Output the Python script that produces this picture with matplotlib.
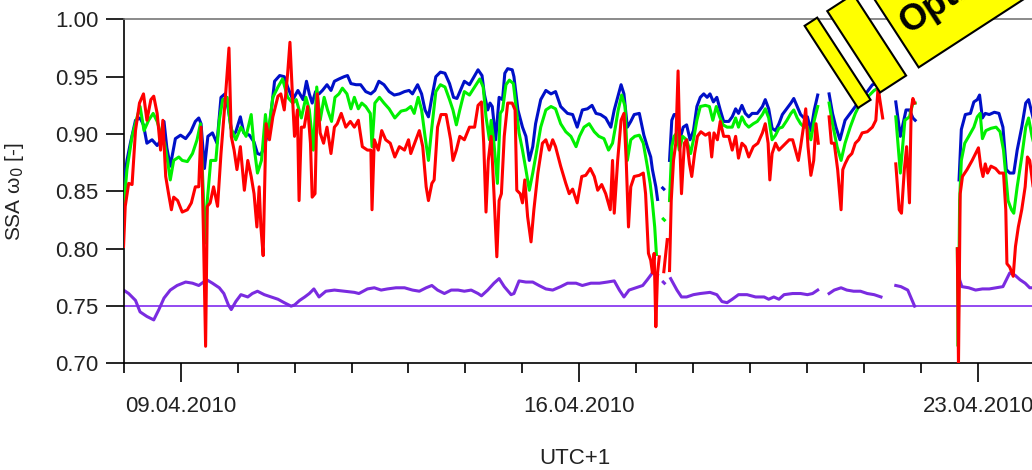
import datetime as dt
import numpy as np
import matplotlib
matplotlib.use('Agg')
import matplotlib.pyplot as plt
import matplotlib.dates as mdates
from matplotlib.patches import Polygon
from matplotlib.transforms import Affine2D

plt.rcParams.update({
    'font.family': ['Liberation Sans', 'DejaVu Sans'],
    'font.size': 16,
})

nan = np.nan
start = dt.datetime(2010, 4, 8)

# time = days after 08.04.2010 00:00 (UTC+1), values = SSA
blue_t = [0.00, 0.06, 0.12, 0.21, 0.29, 0.35, 0.41, 0.50, 0.59, 0.66, 0.71, 0.76, 0.82, 0.91, 1.00, 1.09,
          1.18, 1.26, 1.32, 1.36, 1.42, 1.48, 1.56, 1.64, 1.71, 1.78, 1.84, 1.91, 1.97, 2.05, 2.11, 2.21,
          2.29, 2.35, 2.41, 2.47, 2.56, 2.65, 2.74, 2.82, 2.88, 2.97, 3.06, 3.15, 3.21, 3.26, 3.31, 3.37,
          3.43, 3.49, 3.57, 3.64, 3.70, 3.78, 3.87, 3.93, 3.99, 4.08, 4.16, 4.25, 4.34, 4.41, 4.48, 4.57,
          4.66, 4.75, 4.84, 4.93, 5.01, 5.07, 5.16, 5.23, 5.29, 5.35, 5.41, 5.48, 5.56, 5.64, 5.72, 5.79,
          5.85, 5.91, 5.98, 6.07, 6.15, 6.22, 6.29, 6.33, 6.39, 6.43, 6.47, 6.53, 6.59, 6.65, 6.69, 6.74,
          6.82, 6.85, 6.92, 7.00, 7.06, 7.12, 7.18, 7.23, 7.32, 7.41, 7.50, 7.58, 7.67, 7.79, 7.88, 7.96,
          8.05, 8.14, 8.22, 8.29, 8.37, 8.46, 8.55, 8.61, 8.67, 8.73, 8.78, 8.84, 8.90, 8.96, 9.05, 9.13,
          9.19, 9.25, 9.28, 9.34, 9.37, 9.40, 9.46, 9.48, 9.50, 9.58, 9.62, 9.66, 9.71, 9.76, 9.82, 9.88,
          9.94, 10.00, 10.06, 10.12, 10.18, 10.24, 10.29, 10.35, 10.41, 10.47, 10.53, 10.62, 10.68, 10.74,
          10.79, 10.85, 10.91, 10.97, 11.03, 11.12, 11.21, 11.26, 11.32, 11.38, 11.44, 11.50, 11.56, 11.62,
          11.71, 11.76, 11.82, 11.88, 11.94, 12.00, 12.06, 12.12, 12.18, 12.30, 12.38, 12.44, 12.50, 12.57,
          12.66, 12.75, 12.84, 12.93, 13.05, 13.14, 13.22, 13.40, 13.55, 13.63, 13.73, 13.79, 13.85, 13.89,
          14.30, 14.66, 14.68, 14.70, 14.77, 14.86, 14.92, 14.98, 15.02, 15.07, 15.12, 15.19, 15.28, 15.36,
          15.43, 15.49, 15.55, 15.62, 15.68, 15.76, 15.83, 15.88, 15.94, 16.00]
blue_v = [0.854, 0.877, 0.892, 0.912, 0.914, 0.908, 0.892, 0.895, 0.890, 0.895, 0.911, 0.888, 0.872, 0.896, 0.899, 0.896,
          0.902, 0.911, 0.914, 0.909, 0.870, 0.898, 0.901, 0.892, 0.932, 0.935, 0.921, 0.898, 0.902, 0.915, 0.901, 0.899,
          0.893, 0.883, 0.882, 0.889, 0.906, 0.946, 0.951, 0.950, 0.941, 0.930, 0.938, 0.930, 0.946, 0.935, 0.927, 0.937,
          0.935, 0.938, 0.943, 0.938, 0.946, 0.948, 0.950, 0.951, 0.944, 0.943, 0.943, 0.937, 0.935, 0.938, 0.946, 0.943,
          0.937, 0.934, 0.935, 0.937, 0.938, 0.935, 0.943, 0.935, 0.921, 0.915, 0.932, 0.950, 0.954, 0.953, 0.944, 0.932,
          0.931, 0.938, 0.946, 0.943, 0.950, 0.956, 0.951, 0.935, 0.921, 0.927, 0.924, 0.895, 0.932, 0.930, 0.953, 0.957,
          0.956, 0.950, 0.921, 0.906, 0.898, 0.877, 0.889, 0.909, 0.930, 0.938, 0.935, 0.937, 0.924, 0.918, 0.917, 0.906,
          0.921, 0.922, 0.925, 0.918, 0.917, 0.914, 0.906, 0.921, 0.932, 0.943, 0.935, 0.906, 0.911, 0.917, 0.918, 0.899,
          0.889, 0.880, 0.869, 0.854, 0.843, nan, 0.853, 0.852, nan, 0.877, 0.912, 0.917, 0.917, 0.895, 0.906, 0.908,
          0.895, 0.903, 0.924, 0.932, 0.935, 0.932, 0.935, 0.928, 0.932, 0.921, 0.911, 0.911, 0.915, 0.922,
          0.918, 0.925, 0.918, 0.915, 0.918, 0.918, 0.924, 0.930, 0.922, 0.905, 0.903, 0.909, 0.917, 0.921,
          0.927, 0.931, 0.924, 0.917, 0.914, 0.915, 0.903, 0.921, 0.934, nan, 0.935, 0.918, 0.906, 0.895,
          0.912, 0.918, 0.924, 0.931, 0.937, 0.943, 0.944, nan, 0.928, 0.898, 0.921, 0.921, 0.914, 0.912,
          nan, 0.860, 0.883, 0.904, 0.917, 0.918, 0.928, 0.930, 0.934, 0.914, 0.918, 0.917, 0.919, 0.918,
          0.906, 0.869, 0.866, 0.866, 0.886, 0.906, 0.927, 0.930, 0.918, 0.906]

green_t = [0.00, 0.06, 0.15, 0.24, 0.29, 0.36, 0.44, 0.52, 0.59, 0.66, 0.72, 0.78, 0.82, 0.88, 0.97, 1.03,
           1.12, 1.21, 1.29, 1.35, 1.40, 1.43, 1.47, 1.53, 1.62, 1.68, 1.74, 1.82, 1.88, 1.97, 2.06, 2.15,
           2.24, 2.29, 2.35, 2.42, 2.49, 2.53, 2.62, 2.71, 2.79, 2.88, 2.97, 3.03, 3.12, 3.20, 3.26, 3.33,
           3.39, 3.45, 3.52, 3.58, 3.65, 3.71, 3.78, 3.84, 3.92, 3.99, 4.05, 4.12, 4.18, 4.25, 4.33, 4.36,
           4.41, 4.49, 4.57, 4.66, 4.76, 4.87, 4.96, 5.04, 5.10, 5.17, 5.23, 5.29, 5.35, 5.41, 5.48, 5.56,
           5.64, 5.72, 5.78, 5.84, 5.90, 5.98, 6.07, 6.16, 6.25, 6.31, 6.36, 6.42, 6.45, 6.50, 6.56, 6.61,
           6.65, 6.71, 6.77, 6.84, 6.88, 6.94, 7.00, 7.06, 7.12, 7.18, 7.23, 7.32, 7.41, 7.50, 7.58, 7.67,
           7.76, 7.85, 7.94, 8.00, 8.08, 8.17, 8.26, 8.34, 8.43, 8.51, 8.58, 8.63, 8.68, 8.74, 8.80, 8.84,
           8.90, 8.97, 9.05, 9.12, 9.19, 9.24, 9.28, 9.32, 9.35, 9.40, 9.47, 9.49, 9.52, 9.58, 9.62, 9.66,
           9.71, 9.75, 9.81, 9.88, 9.95, 10.00, 10.06, 10.12, 10.21, 10.28, 10.34, 10.40, 10.46, 10.52,
           10.59, 10.68, 10.74, 10.79, 10.85, 10.91, 10.97, 11.05, 11.12, 11.21, 11.26, 11.32, 11.38, 11.44,
           11.50, 11.56, 11.64, 11.71, 11.76, 11.82, 11.88, 11.94, 12.00, 12.06, 12.12, 12.18, 12.30, 12.38,
           12.44, 12.52, 12.59, 12.66, 12.75, 12.84, 12.93, 13.05, 13.17, 13.24, 13.40, 13.55, 13.63, 13.71,
           13.79, 13.85, 13.89, 14.30, 14.63, 14.645, 14.67, 14.70, 14.76, 14.83, 14.92, 14.98, 15.03, 15.07,
           15.13, 15.22, 15.31, 15.38, 15.44, 15.52, 15.58, 15.62, 15.68, 15.76, 15.83, 15.88, 15.94, 16.00]
green_v = [0.834, 0.869, 0.898, 0.915, 0.924, 0.903, 0.912, 0.918, 0.911, 0.899, 0.892, 0.874, 0.860, 0.877, 0.880, 0.877,
           0.876, 0.883, 0.895, 0.909, 0.848, 0.805, 0.842, 0.877, 0.877, 0.912, 0.930, 0.932, 0.906, 0.895, 0.906, 0.898,
           0.917, 0.889, 0.866, 0.877, 0.917, 0.898, 0.932, 0.941, 0.948, 0.932, 0.927, 0.930, 0.914, 0.932, 0.921, 0.886,
           0.941, 0.912, 0.932, 0.921, 0.911, 0.932, 0.935, 0.940, 0.935, 0.922, 0.932, 0.922, 0.927, 0.924, 0.918, 0.889,
           0.927, 0.932, 0.927, 0.922, 0.914, 0.920, 0.921, 0.924, 0.918, 0.932, 0.921, 0.898, 0.877, 0.906, 0.937, 0.943,
           0.941, 0.930, 0.921, 0.908, 0.921, 0.937, 0.934, 0.941, 0.948, 0.941, 0.915, 0.895, 0.912, 0.892, 0.857, 0.918,
           0.921, 0.943, 0.947, 0.944, 0.927, 0.901, 0.886, 0.869, 0.851, 0.866, 0.880, 0.906, 0.921, 0.924, 0.922, 0.909,
           0.902, 0.898, 0.889, 0.898, 0.906, 0.909, 0.902, 0.898, 0.896, 0.886, 0.892, 0.906, 0.921, 0.934, 0.924, 0.877,
           0.895, 0.898, 0.899, 0.892, 0.872, 0.857, 0.840, 0.819, 0.795, nan, 0.826, 0.825, nan, 0.842, 0.889, 0.898,
           0.901, 0.886, 0.898, 0.895, 0.883, 0.895, 0.912, 0.924, 0.925, 0.924, 0.912, 0.924, 0.915, 0.908,
           0.906, 0.906, 0.914, 0.906, 0.915, 0.909, 0.906, 0.909, 0.911, 0.917, 0.922, 0.914, 0.895, 0.899,
           0.905, 0.906, 0.912, 0.918, 0.921, 0.914, 0.909, 0.906, 0.906, 0.895, 0.912, 0.924, nan, 0.927,
           0.909, 0.889, 0.877, 0.892, 0.906, 0.918, 0.927, 0.932, 0.938, 0.940, nan, 0.915, 0.866, 0.912,
           0.915, 0.927, 0.927, nan, 0.800, 0.715, 0.842, 0.877, 0.892, 0.898, 0.906, 0.915, 0.918, 0.896,
           0.903, 0.905, 0.906, 0.902, 0.886, 0.842, 0.834, 0.831, 0.854, 0.880, 0.906, 0.914, 0.898, 0.886]

red_t = [0.00, 0.03, 0.09, 0.15, 0.21, 0.28, 0.35, 0.41, 0.48, 0.53, 0.59, 0.65, 0.69, 0.74, 0.79, 0.84,
         0.88, 0.95, 1.03, 1.12, 1.19, 1.26, 1.32, 1.36, 1.40, 1.44, 1.47, 1.52, 1.58, 1.65, 1.71, 1.78,
         1.85, 1.89, 1.94, 1.99, 2.05, 2.12, 2.18, 2.24, 2.29, 2.34, 2.38, 2.41, 2.45, 2.50, 2.56, 2.62,
         2.71, 2.76, 2.82, 2.88, 2.92, 2.97, 3.00, 3.05, 3.08, 3.12, 3.17, 3.23, 3.28, 3.31, 3.36, 3.40,
         3.45, 3.51, 3.57, 3.64, 3.70, 3.75, 3.82, 3.90, 3.98, 4.05, 4.12, 4.19, 4.28, 4.34, 4.36, 4.40,
         4.47, 4.53, 4.60, 4.68, 4.76, 4.84, 4.93, 5.00, 5.04, 5.13, 5.19, 5.25, 5.31, 5.35, 5.41, 5.45,
         5.51, 5.57, 5.66, 5.74, 5.78, 5.84, 5.90, 5.98, 6.07, 6.16, 6.22, 6.28, 6.32, 6.36, 6.40, 6.45,
         6.50, 6.55, 6.59, 6.63, 6.68, 6.74, 6.82, 6.87, 6.90, 6.96, 7.00, 7.04, 7.09, 7.15, 7.20, 7.27,
         7.35, 7.41, 7.47, 7.53, 7.58, 7.67, 7.76, 7.82, 7.88, 7.96, 8.04, 8.11, 8.19, 8.26, 8.32, 8.39,
         8.46, 8.54, 8.58, 8.61, 8.67, 8.73, 8.78, 8.82, 8.86, 8.90, 8.96, 9.05, 9.12, 9.16, 9.21, 9.25,
         9.28, 9.31, 9.34, 9.37, 9.40, 9.44, 9.48, 9.54, 9.56, 9.58, 9.61, 9.65, 9.69, 9.73, 9.76, 9.79,
         9.84, 9.88, 9.93, 9.97, 10.02, 10.07, 10.13, 10.21, 10.28, 10.32, 10.36, 10.42, 10.47, 10.53,
         10.62, 10.68, 10.74, 10.79, 10.85, 10.91, 10.97, 11.05, 11.13, 11.21, 11.26, 11.31, 11.34, 11.38,
         11.44, 11.50, 11.56, 11.62, 11.68, 11.74, 11.79, 11.84, 11.88, 11.93, 11.97, 12.01, 12.06, 12.11,
         12.15, 12.19, 12.30, 12.38, 12.42, 12.47, 12.53, 12.59, 12.62, 12.66, 12.72, 12.78, 12.84, 12.90,
         12.96, 13.05, 13.14, 13.20, 13.24, 13.27, 13.32, 13.40, 13.55, 13.61, 13.65, 13.70, 13.74, 13.79,
         13.82, 13.85, 13.88, 14.30, 14.63, 14.65, 14.68, 14.72, 14.80, 14.89, 14.95, 15.00, 15.04, 15.08,
         15.12, 15.16, 15.22, 15.30, 15.37, 15.44, 15.48, 15.50, 15.55, 15.61, 15.65, 15.70, 15.76, 15.82,
         15.86, 15.90, 15.96, 16.00]
red_v = [0.802, 0.837, 0.857, 0.856, 0.903, 0.927, 0.935, 0.912, 0.930, 0.933, 0.918, 0.886, 0.912, 0.863, 0.848, 0.834,
         0.845, 0.842, 0.832, 0.834, 0.840, 0.854, 0.854, 0.906, 0.819, 0.715, 0.837, 0.840, 0.854, 0.837, 0.883, 0.927,
         0.975, 0.898, 0.886, 0.869, 0.889, 0.851, 0.877, 0.863, 0.848, 0.819, 0.854, 0.819, 0.794, 0.909, 0.895, 0.915,
         0.933, 0.935, 0.921, 0.953, 0.980, 0.927, 0.898, 0.921, 0.842, 0.906, 0.906, 0.924, 0.892, 0.845, 0.848, 0.935,
         0.901, 0.892, 0.906, 0.883, 0.906, 0.909, 0.918, 0.906, 0.911, 0.906, 0.912, 0.889, 0.886, 0.886, 0.834, 0.895,
         0.886, 0.903, 0.895, 0.892, 0.880, 0.889, 0.886, 0.895, 0.883, 0.895, 0.903, 0.889, 0.854, 0.842, 0.857, 0.860,
         0.906, 0.917, 0.917, 0.895, 0.877, 0.886, 0.898, 0.895, 0.906, 0.906, 0.925, 0.928, 0.892, 0.832, 0.877, 0.898,
         0.848, 0.793, 0.842, 0.848, 0.898, 0.927, 0.927, 0.921, 0.851, 0.848, 0.840, 0.860, 0.828, 0.806, 0.834, 0.866,
         0.892, 0.895, 0.886, 0.895, 0.889, 0.872, 0.857, 0.848, 0.852, 0.840, 0.863, 0.864, 0.870, 0.863, 0.851, 0.856,
         0.848, 0.834, 0.877, 0.831, 0.877, 0.912, 0.918, 0.877, 0.819, 0.854, 0.863, 0.864, 0.866, 0.848, 0.796, 0.790,
         0.779, 0.796, 0.732, 0.779, 0.793, nan, 0.780, 0.808, nan, 0.781, 0.842, 0.877, 0.892, 0.955, 0.892, 0.848,
         0.892, 0.895, 0.874, 0.863, 0.883, 0.898, 0.902, 0.899, 0.901, 0.880, 0.901, 0.895, 0.911, 0.898,
         0.898, 0.886, 0.898, 0.879, 0.892, 0.889, 0.880, 0.889, 0.892, 0.901, 0.909, 0.892, 0.860, 0.883,
         0.892, 0.886, 0.889, 0.892, 0.895, 0.895, 0.886, 0.877, 0.889, 0.906, 0.922, 0.889, 0.864, 0.877,
         0.909, 0.892, nan, 0.915, 0.892, 0.892, 0.869, 0.834, 0.869, 0.874, 0.880, 0.883, 0.892, 0.895,
         0.901, 0.902, 0.906, 0.912, 0.941, 0.930, 0.914, nan, 0.874, 0.834, 0.831, 0.869, 0.889, 0.840,
         0.921, 0.931, 0.927, nan, 0.800, 0.699, 0.848, 0.863, 0.869, 0.877, 0.883, 0.888, 0.872, 0.863,
         0.874, 0.866, 0.872, 0.870, 0.866, 0.866, 0.834, 0.787, 0.784, 0.776, 0.802, 0.819, 0.834, 0.854,
         0.880, 0.877, 0.854, 0.848]

purple_t = [0.00, 0.09, 0.21, 0.29, 0.41, 0.53, 0.62, 0.71, 0.82, 0.94, 1.09, 1.21, 1.32, 1.46, 1.56, 1.68,
            1.76, 1.84, 1.89, 1.97, 2.06, 2.18, 2.26, 2.35, 2.47, 2.59, 2.71, 2.82, 2.94, 3.00, 3.09, 3.18,
            3.26, 3.34, 3.43, 3.55, 3.70, 3.87, 4.05, 4.13, 4.28, 4.40, 4.52, 4.63, 4.78, 4.93, 5.07, 5.19,
            5.31, 5.41, 5.51, 5.63, 5.75, 5.87, 5.98, 6.10, 6.22, 6.28, 6.39, 6.50, 6.59, 6.68, 6.80, 6.85,
            6.94, 7.06, 7.18, 7.29, 7.41, 7.53, 7.67, 7.79, 7.94, 8.05, 8.20, 8.35, 8.49, 8.61, 8.70, 8.78,
            8.87, 8.99, 9.11, 9.19, 9.28, 9.37, 9.42, 9.47, 9.49, 9.54, 9.60, 9.71, 9.79, 9.88, 10.00, 10.12,
            10.29, 10.41, 10.50, 10.59, 10.68, 10.79, 10.94, 11.09, 11.24, 11.32, 11.41, 11.50, 11.59, 11.74,
            11.88, 12.00, 12.09, 12.18, 12.30, 12.38, 12.47, 12.59, 12.69, 12.81, 12.93, 13.05, 13.17, 13.29,
            13.40, 13.55, 13.64, 13.76, 13.82, 13.88, 14.30, 14.64, 14.67, 14.71, 14.83, 14.95, 15.07, 15.19,
            15.31, 15.43, 15.49, 15.55, 15.64, 15.73, 15.82, 15.90, 16.00]
purple_v = [0.764, 0.761, 0.755, 0.745, 0.741, 0.738, 0.747, 0.757, 0.764, 0.768, 0.771, 0.770, 0.768, 0.773, 0.770, 0.766,
            0.761, 0.751, 0.747, 0.754, 0.760, 0.758, 0.761, 0.763, 0.760, 0.758, 0.756, 0.753, 0.750, 0.751, 0.755, 0.758,
            0.761, 0.765, 0.758, 0.763, 0.764, 0.763, 0.762, 0.761, 0.765, 0.766, 0.764, 0.765, 0.766, 0.766, 0.764, 0.763,
            0.766, 0.768, 0.764, 0.761, 0.764, 0.764, 0.763, 0.764, 0.761, 0.759, 0.764, 0.770, 0.774, 0.767, 0.760, 0.761,
            0.772, 0.771, 0.771, 0.768, 0.765, 0.764, 0.767, 0.770, 0.770, 0.768, 0.770, 0.770, 0.771, 0.772, 0.764, 0.758,
            0.764, 0.766, 0.768, 0.773, 0.779, 0.777, nan, 0.771, 0.770, nan, 0.774, 0.764, 0.758, 0.758, 0.760, 0.761,
            0.762, 0.760, 0.754, 0.753, 0.756, 0.760, 0.760, 0.758, 0.758, 0.756, 0.758, 0.756, 0.760, 0.761,
            0.761, 0.760, 0.761, 0.764, nan, 0.761, 0.764, 0.766, 0.764, 0.763, 0.763, 0.761, 0.760, 0.758,
            nan, 0.768, 0.767, 0.764, 0.757, 0.750, nan, 0.799, 0.773, 0.767, 0.766, 0.764, 0.765, 0.765,
            0.766, 0.767, 0.773, 0.779, 0.777, 0.773, 0.770, 0.766, 0.766]

ref_level = 0.75
y_ticks = [0.70, 0.75, 0.80, 0.85, 0.90, 0.95, 1.00]

t0 = mdates.date2num(start)

fig = plt.figure(figsize=(10.32, 4.70), dpi=100)
ax = fig.add_axes([0.1197, 0.2266, 0.8803, 0.7323])

ax.axhline(ref_level, color='#8a3cf0', lw=1.3, zorder=1)
ax.plot(t0 + np.array(purple_t), purple_v, color='#7a2be0', lw=2.2, zorder=2)
ax.plot(t0 + np.array(blue_t), blue_v, color='#0010c8', lw=2.2, zorder=3)
ax.plot(t0 + np.array(green_t), green_v, color='#00f000', lw=2.2, zorder=4)
ax.plot(t0 + np.array(red_t), red_v, color='#ff0000', lw=2.2, zorder=5)

ax.set_xlim(t0, t0 + 15.94)
ax.set_ylim(0.70, 1.00)
ax.set_yticks(y_ticks)
ax.yaxis.set_major_formatter(plt.FormatStrFormatter('%.2f'))
ax.xaxis.set_major_locator(mdates.DayLocator(bymonthday=[9, 16, 23]))
ax.xaxis.set_minor_locator(mdates.DayLocator())
ax.xaxis.set_major_formatter(mdates.DateFormatter('%d.%m.%Y'))

ax.tick_params(axis='y', direction='out', length=13, width=1.2, pad=5, labelcolor='#222222')
ax.tick_params(axis='x', which='major', direction='out', length=13.5, width=1.2, pad=10, labelcolor='#222222')
ax.tick_params(axis='x', which='minor', direction='out', length=7.5, width=1.2)

ax.spines['right'].set_visible(False)
ax.spines['top'].set_color('#777777')
ax.spines['top'].set_linewidth(1.2)
ax.spines['left'].set_linewidth(1.2)
ax.spines['bottom'].set_linewidth(1.2)

ax.set_ylabel('SSA ω$_0$ [-]', fontsize=15, color='#222222')
ax.yaxis.set_label_coords(-0.107, 0.5)
ax.set_xlabel('UTC+1', fontsize=16, color='#222222')
ax.xaxis.label.set_va('center')
ax.xaxis.set_label_coords(0.497, -0.275)

# rotated yellow label in the top right corner (pixel frame, y up)
tr = Affine2D().rotate_deg(33).translate(858, 362).scale(1 / 1032, 1 / 470) + fig.transFigure
shapes = [
    [(0, 0), (15, 0), (15, 98), (0, 98)],
    [(27, 1), (58, 1), (58, 98), (27, 98)],
    [(73, 1), (340, 1), (340, 150), (73, 150)],
]
for pts in shapes:
    fig.add_artist(Polygon(pts, closed=True, facecolor='#ffff00', edgecolor='black',
                           lw=1.5, transform=tr, zorder=10))
fig.text(82, 35, 'Optical', transform=tr, rotation=33, rotation_mode='anchor',
         ha='left', va='baseline', fontsize=26, fontweight='bold', color='black', zorder=11)

fig.savefig('out.png', dpi=100)
